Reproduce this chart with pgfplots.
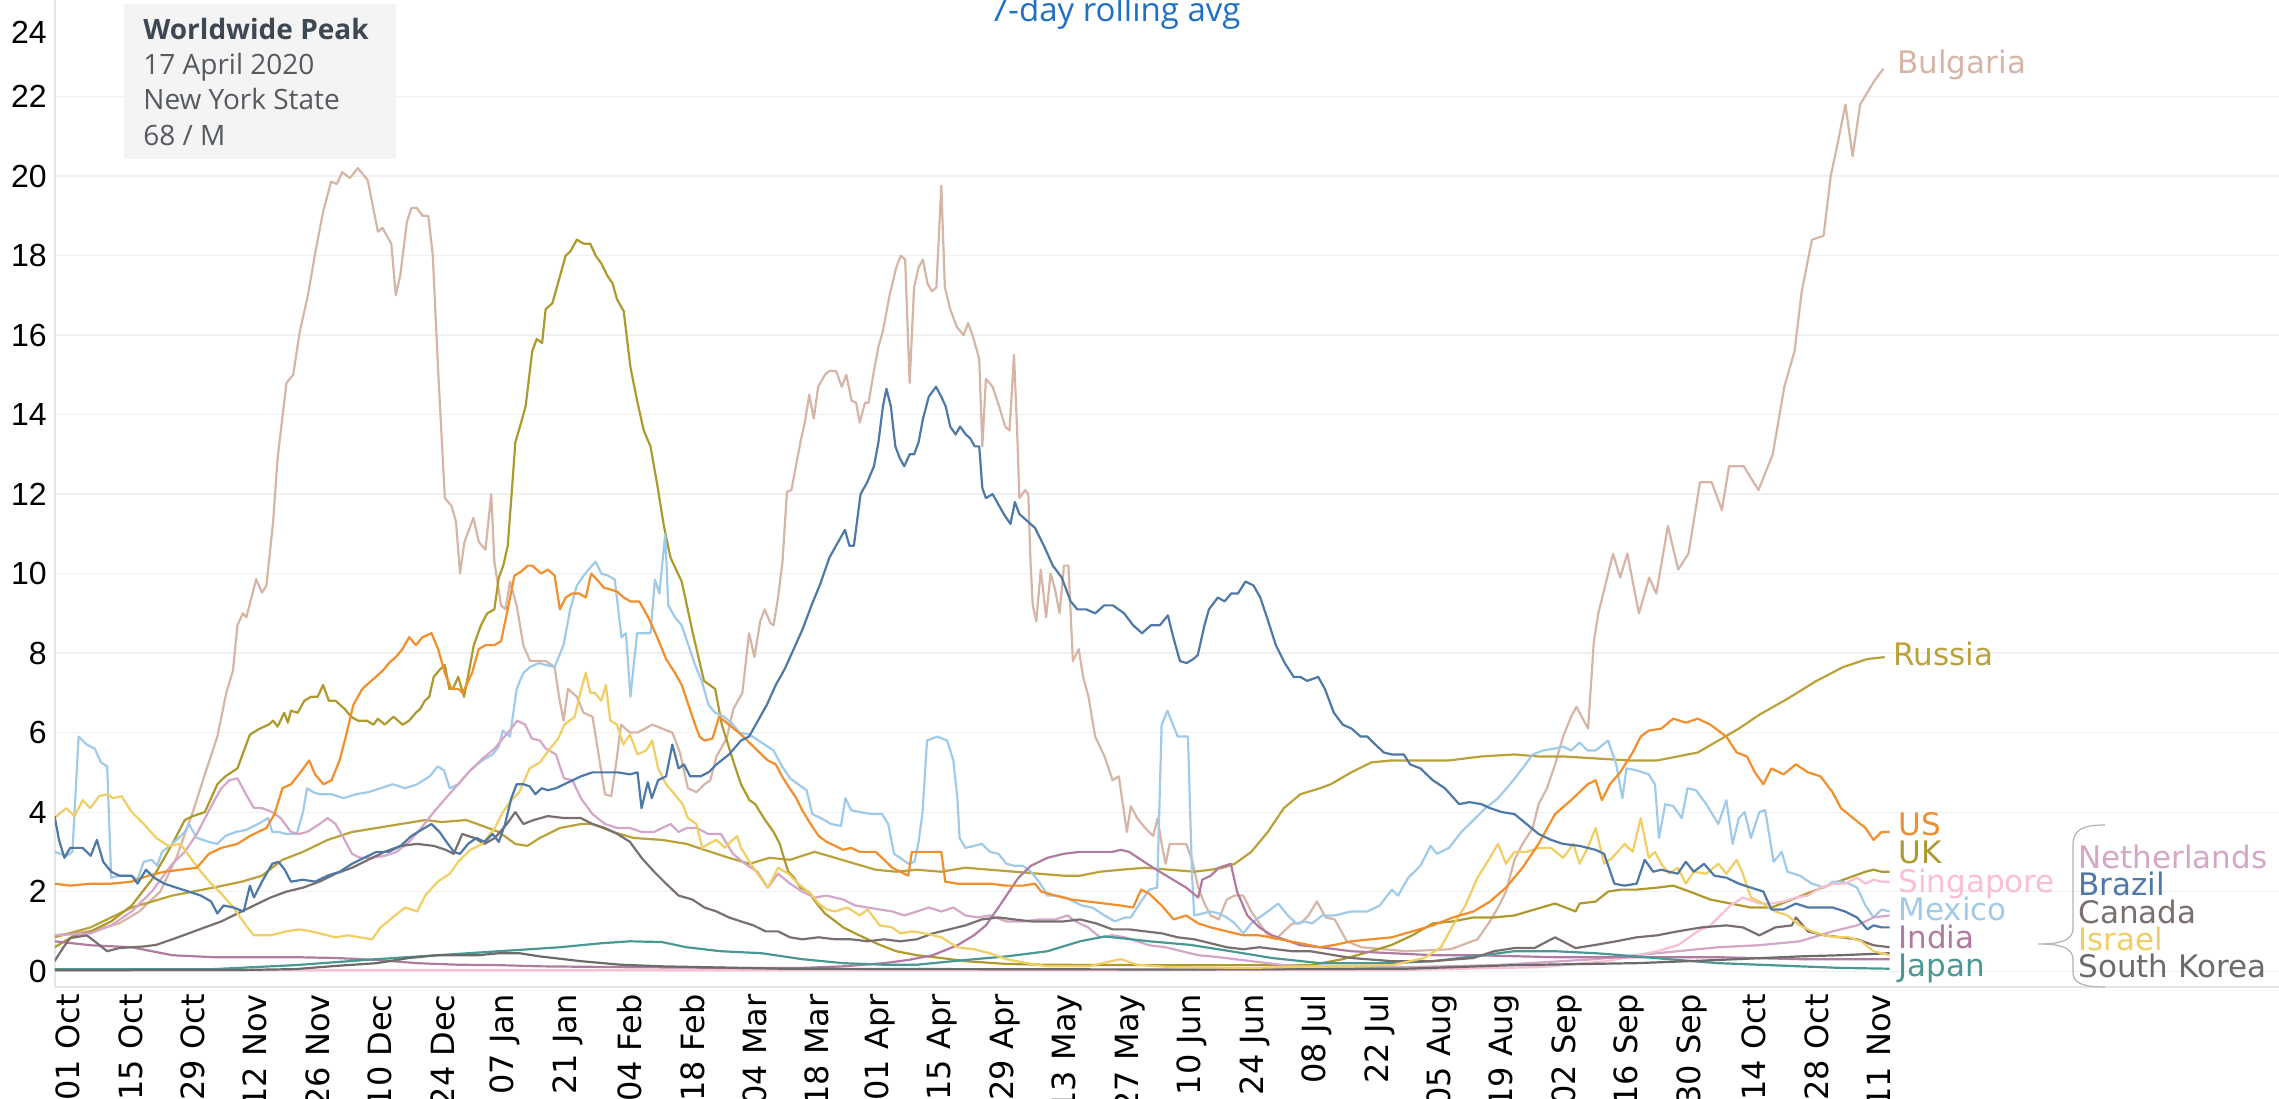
\documentclass[border=0pt]{standalone}
\usepackage{pgfplots}
\pgfplotsset{compat=1.18}
\usepackage{fontspec}
\setmainfont{Open Sans}
\newfontfamily\labelfont{DejaVu Sans}
\newfontfamily\tickfont{Liberation Sans}
\newfontfamily\xtickfont{DejaVu Sans}
\newfontfamily\annfont{Open Sans}
\definecolor{cBulgaria}{HTML}{D7B5A6}
\definecolor{cRussia}{HTML}{BBA13A}
\definecolor{cUK}{HTML}{AE9A2C}
\definecolor{cUS}{HTML}{F28E2B}
\definecolor{cSingapore}{HTML}{FABFD2}
\definecolor{cMexico}{HTML}{A0CBE8}
\definecolor{cIndia}{HTML}{B07AA1}
\definecolor{cJapan}{HTML}{499894}
\definecolor{cNetherlands}{HTML}{D4A6C8}
\definecolor{cBrazil}{HTML}{4E79A7}
\definecolor{cCanada}{HTML}{79706E}
\definecolor{cIsrael}{HTML}{F1CE63}
\definecolor{cKorea}{HTML}{6B6B6B}
\definecolor{cTitle}{HTML}{1F6FC5}
\definecolor{cBox}{HTML}{F4F4F4}
\definecolor{cAnnHead}{HTML}{3E4852}
\definecolor{cAnn}{HTML}{555A60}
\begin{document}
\begin{tikzpicture}
\begin{axis}[
  at={(0pt,0pt)}, anchor=south west,
  scale only axis, width=1112pt, height=493.5pt,
  xmin=-2.9, xmax=495.7, ymin=-0.4, ymax=24.43,
  axis x line*=bottom, axis y line*=left,
  axis line style={draw=black!10, line width=0.6pt, -},
  major tick length=0pt,
  ymajorgrids=true,
  grid style={draw=black!6, line width=0.6pt},
  xtick={0,14,28,42,56,70,84,98,112,126,140,154,168,182,196,210,224,238,252,266,280,294,308,322,336,350,364,378,392,406},
  xticklabels={01 Oct,15 Oct,29 Oct,12 Nov,26 Nov,10 Dec,24 Dec,07 Jan,21 Jan,04 Feb,18 Feb,04 Mar,18 Mar,01 Apr,15 Apr,29 Apr,13 May,27 May,10 Jun,24 Jun,08 Jul,22 Jul,05 Aug,19 Aug,02 Sep,16 Sep,30 Sep,14 Oct,28 Oct,11 Nov},
  xticklabel style={rotate=90, anchor=east, inner sep=0pt, font=\xtickfont\fontsize{16}{16}\selectfont},
  xticklabel shift=3.5pt,
  ytick={0,2,4,6,8,10,12,14,16,18,20,22},
  yticklabels={0,2,4,6,8,10,12,14,16,18,20,22},
  yticklabel style={anchor=east, inner sep=0pt, font=\tickfont\fontsize{16}{16}\selectfont},
  yticklabel shift=4pt,
  every axis plot/.append style={line width=1.1pt, mark=none, line join=round},
  clip=true,
]
% Bulgaria
\addplot[cBulgaria] coordinates {(-3,0.9) (5,1.0) (11.5,1.2) (16,1.5) (20.7,2.0) (24.3,2.85) (28,4.0) (30.7,4.95) (33.5,5.9) (35.5,7.0) (37,7.56) (38,8.7) (39.2,9.0) (40,8.9) (42.2,9.86) (43.5,9.52) (44.5,9.7) (46,11.3) (47,12.9) (49,14.8) (50.5,15.0) (52,16.1) (53.8,17.0) (55.5,18.1) (57.2,19.1) (59,19.86) (60.3,19.8) (61.5,20.1) (63.2,19.95) (65,20.2) (67.2,19.9) (69.5,18.6) (70.5,18.7) (72.5,18.3) (73.5,17.0) (74.5,17.5) (76,18.85) (77,19.2) (78.2,19.2) (79.5,19.0) (80.8,19.0) (81.8,18.0) (83,15.1) (84.5,11.9) (86,11.7) (87,11.3) (87.9,10.0) (88.9,10.8) (90.9,11.4) (92.1,10.8) (93.6,10.6) (94.9,12.0) (95.6,10.3) (97.1,9.2) (98.1,9.1) (99.1,9.8) (100.6,9.2) (102.1,8.2) (103.6,7.8) (107.1,7.8) (109.1,7.65) (110.1,6.9) (111.1,6.3) (112.1,7.1) (114.1,6.9) (115.6,6.5) (117.6,6.4) (120.4,4.45) (121.8,4.4) (123,5.3) (124,6.2) (126,6.0) (127.7,6.0) (131,6.2) (135.5,6.0) (137.2,5.5) (139,4.6) (140.9,4.5) (142.7,4.7) (144,4.8) (145.4,5.4) (147.7,5.86) (149.2,6.6) (151.2,7.0) (152.7,8.5) (153.9,7.9) (155.2,8.8) (156.2,9.1) (157.5,8.75) (158.2,8.7) (159.2,9.4) (160.2,10.3) (161.2,12.06) (162.2,12.1) (163.2,12.7) (164.2,13.3) (165.2,13.8) (166.2,14.5) (167.2,13.9) (168.2,14.7) (169.7,15.0) (170.7,15.1) (172.2,15.1) (173.5,14.7) (174.5,15.0) (175.7,14.35) (176.7,14.3) (177.5,13.8) (178.7,14.3) (179.5,14.3) (180.7,15.1) (181.7,15.7) (182.7,16.1) (184.2,17.0) (185.7,17.7) (186.7,18.0) (187.7,17.9) (188.7,14.8) (189.7,17.2) (190.7,17.7) (191.7,17.9) (192.7,17.3) (193.7,17.1) (194.7,17.2) (195.8,19.76) (196.6,17.2) (197.8,16.65) (199.3,16.2) (200.8,16.0) (201.8,16.3) (202.8,16.0) (204.3,15.4) (205,13.2) (205.8,14.9) (207.3,14.7) (208.8,14.2) (210.1,13.7) (211.1,13.6) (212.1,15.5) (212.8,13.6) (213.3,11.9) (214.6,12.1) (215.3,12.0) (215.8,10.3) (216.3,9.2) (217.1,8.8) (218.1,10.1) (219.3,8.9) (220.3,10.0) (221.3,9.6) (222.3,9.0) (223.3,10.2) (224.3,10.2) (225.3,7.8) (226.6,8.1) (227.6,7.4) (228.8,6.9) (230.3,5.9) (232.4,5.4) (234.2,4.8) (235.6,4.9) (236.5,4.2) (237.4,3.5) (238.3,4.15) (239.7,3.85) (241.5,3.6) (243.3,3.4) (244.3,3.85) (245.2,3.2) (246.1,2.7) (247,3.2) (248.4,3.2) (250.7,3.2) (252,2.8) (253.4,2.1) (254.8,1.7) (256.2,1.4) (258,1.3) (259.8,1.8) (261.6,1.9) (263.5,1.9) (265.3,1.5) (267.1,1.2) (269,0.9) (270.8,0.8) (272.6,1.0) (274.5,1.2) (276.3,1.2) (278.1,1.4) (280,1.75) (282,1.35) (284,1.3) (286.7,0.75) (290,0.6) (300,0.5) (310,0.55) (316,0.8) (318.8,1.25) (320.6,1.6) (322.4,2.0) (324.3,2.8) (326.1,3.2) (328.4,3.6) (329.7,4.2) (331.6,4.6) (333.4,5.2) (335.2,5.9) (337,6.4) (338.2,6.65) (340.8,6.1) (342.1,8.3) (343.1,9.0) (346.4,10.5) (348,9.9) (349.6,10.5) (352.2,9.0) (354.5,9.9) (356.1,9.5) (358.7,11.2) (361,10.1) (363.3,10.5) (365.9,12.3) (368.5,12.3) (370.8,11.6) (372.4,12.7) (375.7,12.7) (379,12.1) (382.2,13.0) (384.8,14.7) (387.1,15.6) (388.7,17.1) (391,18.4) (393.6,18.5) (395.2,20.0) (396.9,20.9) (398.5,21.8) (400.1,20.5) (401.8,21.8) (405,22.4) (407,22.7)};
% Russia
\addplot[cRussia] coordinates {(-3,0.85) (5.1,1.1) (14.3,1.6) (23.4,1.9) (32.6,2.1) (39,2.25) (43.5,2.4) (48.1,2.8) (52.7,3.0) (58.2,3.3) (63.7,3.5) (69.2,3.6) (74.6,3.7) (80.1,3.8) (83.8,3.75) (89.3,3.8) (93,3.65) (96.6,3.5) (100.3,3.2) (103,3.15) (105.8,3.35) (110.3,3.6) (115,3.7) (117.6,3.7) (122.2,3.5) (126.8,3.35) (133.2,3.3) (138.7,3.2) (142.7,3.05) (148.2,2.85) (152.8,2.7) (157.3,2.85) (161.9,2.8) (167.4,3.0) (172,2.85) (176.5,2.7) (181.1,2.55) (185.7,2.5) (190.3,2.55) (195.8,2.5) (201.2,2.6) (206.7,2.55) (212.2,2.5) (217.7,2.45) (223.2,2.4) (226.9,2.4) (231.4,2.5) (236,2.55) (241.5,2.6) (247,2.55) (252.5,2.5) (256.2,2.55) (258.9,2.6) (261.6,2.7) (265.3,3.0) (269,3.5) (272.6,4.1) (276.3,4.45) (280.7,4.6) (283.1,4.7) (287.7,5.0) (292.2,5.25) (296.8,5.3) (304.1,5.3) (309.6,5.3) (316.9,5.4) (324.3,5.45) (329.7,5.4) (335.2,5.4) (342.5,5.35) (349.9,5.3) (356.3,5.3) (360.9,5.4) (365.4,5.5) (370,5.8) (374.6,6.1) (379.2,6.45) (385.5,6.85) (392,7.3) (398,7.65) (403.4,7.85) (407.3,7.9)};
% UK
\addplot[cUK] coordinates {(-3,0.6) (1.5,0.9) (5.1,1.0) (9.7,1.25) (14.3,1.65) (18.8,2.3) (23.4,3.2) (26.2,3.8) (28,3.9) (30.7,4.0) (33.5,4.7) (35.3,4.9) (38,5.1) (40.8,5.95) (43,6.1) (45,6.2) (46,6.3) (47,6.15) (48.5,6.5) (49.3,6.25) (50,6.55) (51.5,6.5) (53,6.8) (54.5,6.9) (56,6.9) (57.2,7.2) (58.5,6.8) (60,6.8) (62,6.6) (63.5,6.4) (65,6.3) (67,6.3) (68.5,6.2) (69.5,6.35) (71,6.2) (73,6.4) (75,6.2) (76.5,6.3) (78,6.5) (79,6.6) (80,6.8) (81,6.9) (82,7.4) (83.5,7.6) (84.5,7.7) (85.5,7.1) (86.3,7.1) (87.5,7.4) (88.8,6.9) (90,7.6) (91,8.2) (92.6,8.7) (94,9.0) (95.6,9.1) (96.6,9.9) (97.6,10.2) (98.6,10.7) (99.6,12.2) (100.3,13.3) (101.6,13.8) (102.6,14.2) (104.1,15.6) (105.1,15.9) (106.3,15.8) (107.1,16.65) (108.6,16.8) (110.1,17.4) (111.6,18.0) (112.6,18.1) (114.1,18.4) (115.6,18.3) (117.1,18.3) (118.3,18.0) (119.6,17.8) (120.9,17.5) (122.1,17.3) (123.1,16.9) (124.6,16.6) (126.1,15.2) (127.6,14.35) (129.1,13.6) (130.6,13.2) (132.1,12.25) (133.6,11.2) (135.1,10.4) (137.6,9.8) (140.1,8.5) (142.6,7.3) (145.1,7.1) (146.6,6.2) (149.1,5.3) (150.9,4.7) (152.8,4.3) (154.1,4.2) (156,3.85) (158.2,3.5) (159.6,3.2) (160.5,2.85) (161.5,2.5) (162.8,2.35) (164.2,2.1) (166,2.0) (167.9,1.7) (169.7,1.45) (171.5,1.3) (173.8,1.1) (176.5,0.95) (179.3,0.8) (182,0.66) (185.7,0.5) (190.3,0.4) (195.8,0.33) (201.2,0.25) (210.4,0.18) (219.6,0.16) (240,0.15) (260,0.15) (278.5,0.15) (285.8,0.3) (292.2,0.5) (296.8,0.66) (301.4,0.9) (306,1.2) (310.5,1.25) (315.1,1.35) (319.7,1.35) (324.3,1.4) (328.8,1.55) (333.4,1.7) (338,1.5) (338.9,1.7) (342.5,1.75) (345.3,2.0) (348,2.05) (351.7,2.05) (356.3,2.1) (359.9,2.15) (363.6,2.0) (368.2,1.8) (372.7,1.7) (377.3,1.6) (381.9,1.6) (386.5,1.8) (391,2.0) (395.6,2.2) (399.3,2.35) (403,2.5) (404.8,2.55) (406.6,2.5) (408.4,2.5)};
% Mexico
\addplot[cMexico] coordinates {(-3,3.0) (-0.4,2.9) (1,3.0) (2.4,5.9) (4.2,5.7) (6,5.6) (7.4,5.25) (8.8,5.15) (9.7,2.35) (11.5,2.4) (14.3,2.4) (15.6,2.3) (17,2.75) (18.8,2.8) (20,2.65) (21.1,3.0) (23.4,3.2) (26.2,3.5) (27.1,3.7) (28.9,3.35) (31.6,3.25) (33.5,3.2) (35.3,3.4) (37.6,3.5) (39.9,3.55) (42.6,3.7) (44.9,3.85) (45.8,3.5) (47.2,3.5) (49,3.45) (51.3,3.45) (52.7,4.0) (53.6,4.6) (55,4.5) (56.4,4.45) (59.1,4.45) (61.8,4.35) (64.6,4.45) (67.3,4.5) (70.1,4.6) (72.8,4.7) (75.6,4.6) (78.3,4.7) (81.1,4.9) (82.9,5.15) (84.3,5.05) (85.6,4.6) (87.5,4.7) (90.2,5.05) (92.9,5.3) (95.2,5.45) (96.6,5.65) (97.5,6.05) (99.1,5.9) (100.6,7.1) (102.1,7.5) (103.6,7.65) (105.6,7.75) (107.1,7.7) (109.1,7.65) (111.1,8.2) (112.6,9.1) (114.1,9.7) (115.6,9.95) (117.1,10.15) (118.3,10.3) (119.6,10.0) (121.1,9.95) (122.6,9.85) (124.1,8.4) (125.1,8.5) (126.1,6.9) (127.6,8.5) (129.1,8.5) (130.6,8.5) (131.6,9.85) (132.6,9.5) (133.9,11.0) (134.6,9.2) (136.1,8.9) (137.6,8.7) (139.1,8.2) (140.6,7.7) (142.1,7.3) (143.6,6.7) (145.1,6.5) (147.1,6.4) (149.1,6.2) (150.6,6.0) (152.8,5.95) (155.5,5.75) (158.2,5.55) (160.1,5.15) (161.9,4.85) (163.7,4.7) (165.6,4.55) (166.9,3.95) (168.8,3.85) (171.1,3.7) (173.3,3.65) (174.3,4.35) (175.6,4.05) (177.5,4.0) (180.2,3.95) (182.5,3.95) (183.9,3.7) (185.2,2.95) (186.6,2.85) (188.4,2.7) (189.8,2.75) (190.7,3.25) (191.6,4.0) (192.6,5.8) (194.9,5.9) (197.1,5.8) (198.5,5.3) (199.4,4.35) (199.9,3.35) (201.2,3.1) (203.1,3.15) (204.9,3.2) (206.7,3.0) (208.6,2.95) (210.4,2.7) (212.2,2.65) (214.1,2.65) (215.9,2.5) (217.7,2.25) (219.6,1.9) (221.4,1.9) (223.7,1.85) (225.5,1.75) (227.3,1.65) (229.6,1.6) (232.4,1.4) (234.7,1.25) (237,1.35) (238.3,1.35) (239.7,1.6) (242.4,2.05) (244.2,2.1) (245.2,6.2) (246.5,6.55) (248.8,5.9) (251.1,5.9) (252,2.45) (252.5,1.4) (254.4,1.45) (256.2,1.5) (258,1.45) (259.8,1.35) (261.6,1.2) (263.5,0.95) (265.3,1.2) (267.1,1.35) (269,1.5) (271.3,1.7) (273.5,1.4) (275.4,1.2) (277.2,1.25) (279,1.2) (281.2,1.4) (284,1.4) (287.7,1.5) (291.3,1.5) (294.1,1.65) (296.8,2.05) (298.2,1.9) (300.5,2.35) (303.2,2.65) (305.5,3.15) (306.9,2.95) (309.6,3.1) (312.4,3.5) (315.1,3.8) (317.8,4.1) (320.6,4.35) (323.3,4.7) (326.1,5.1) (328.4,5.45) (330.7,5.55) (333.4,5.6) (335.2,5.65) (337,5.55) (338.9,5.75) (340.7,5.55) (342.5,5.55) (345.3,5.8) (347.1,5.2) (348.5,4.35) (349.4,5.1) (351.7,5.05) (354.4,4.95) (355.8,4.7) (356.7,3.35) (358.1,4.2) (359.9,4.15) (361.8,3.85) (363.1,4.6) (365,4.55) (367.3,4.2) (370,3.7) (371.8,4.3) (373.2,3.2) (374.6,3.85) (375.9,4.0) (377.3,3.35) (379.2,4.0) (380.5,4.05) (382.4,2.75) (384.2,3.0) (385.5,2.5) (388.3,2.4) (391,2.2) (393.8,2.1) (395.6,2.25) (397.5,2.25) (399.3,2.2) (401.1,2.1) (403,1.65) (404.8,1.35) (406.6,1.55) (408.4,1.5)};
% Netherlands
\addplot[cNetherlands] coordinates {(-3,0.9) (5.1,0.95) (9.7,1.15) (14.3,1.5) (18.8,2.0) (23.4,2.7) (26.2,3.0) (28.9,3.45) (32.6,4.25) (34.4,4.6) (36.2,4.8) (38,4.85) (39.9,4.45) (41.7,4.1) (43.5,4.1) (45.8,4.0) (47.7,3.85) (50,3.5) (51.8,3.45) (53.6,3.5) (56.4,3.7) (58.2,3.85) (60,3.7) (61.8,3.35) (63.7,2.95) (65.5,2.85) (68.2,2.85) (71,2.9) (73.7,3.0) (76.5,3.25) (79.2,3.6) (82,4.0) (84.7,4.35) (87.5,4.7) (90.2,5.05) (93,5.35) (95.7,5.6) (97.5,5.85) (99.4,6.1) (100.7,6.3) (102.5,6.2) (104,5.85) (105.8,5.8) (107.1,5.6) (109.4,5.45) (111.2,4.85) (113.1,4.8) (115,4.35) (117.6,3.95) (120.4,3.7) (123.2,3.6) (126,3.6) (128.6,3.5) (131.4,3.5) (133.2,3.6) (135.1,3.7) (136.9,3.5) (138.7,3.6) (140.9,3.6) (143.6,3.45) (146.4,3.45) (149.1,2.95) (151.8,2.7) (154.6,2.5) (156.9,2.1) (159.2,2.45) (161.9,2.2) (164.6,2.0) (167.4,1.85) (170.1,1.9) (173.8,1.8) (176.5,1.65) (179.3,1.6) (182,1.55) (184.8,1.5) (187.5,1.4) (190.3,1.5) (193,1.6) (195.8,1.5) (198.5,1.6) (201.2,1.4) (204,1.35) (206.7,1.4) (210.4,1.25) (214.1,1.25) (217.7,1.3) (221.4,1.3) (224.1,1.4) (225.9,1.25) (228.7,1.1) (231.4,0.85) (234.2,0.9) (236.9,0.85) (239.7,0.75) (242.4,0.65) (246.1,0.6) (249.7,0.5) (253.4,0.4) (258,0.35) (265.3,0.25) (272.6,0.15) (280.7,0.12) (300,0.1) (320,0.15) (342.5,0.3) (360.9,0.5) (370,0.6) (379,0.65) (388.3,0.75) (395.6,1.0) (401.1,1.15) (404.8,1.35) (408.4,1.4)};
% Singapore
\addplot[cSingapore] coordinates {(-3,0.02) (100,0.02) (200,0.02) (300,0.03) (330,0.1) (345,0.25) (356.3,0.5) (360.9,0.65) (365.4,1.0) (368.2,1.15) (370,1.35) (372.7,1.65) (375.5,1.85) (379.2,1.7) (381.9,1.7) (384.6,1.75) (387.4,1.85) (390.1,1.9) (392.9,2.1) (395.6,2.2) (398.4,2.2) (401.1,2.35) (403,2.2) (404.8,2.3) (406.6,2.25) (408.4,2.25)};
% India
\addplot[cIndia] coordinates {(-3,0.75) (5.1,0.65) (14.3,0.6) (23.4,0.4) (32.6,0.35) (50.9,0.35) (60,0.33) (69.2,0.28) (78.3,0.2) (87.5,0.16) (96.6,0.15) (105.8,0.12) (124,0.1) (150,0.08) (164.6,0.08) (173.8,0.12) (183,0.2) (188.4,0.28) (193.9,0.4) (199.4,0.65) (203.1,0.9) (205.8,1.15) (208.6,1.6) (210.4,1.9) (213.1,2.35) (215.9,2.65) (219.6,2.85) (223.2,2.95) (226.9,3.0) (230.5,3.0) (234.2,3.0) (236,3.05) (237.9,3.0) (240.6,2.8) (243.3,2.6) (247,2.35) (250.7,2.1) (253.4,1.85) (254.3,2.3) (256.2,2.4) (258,2.6) (260.7,2.7) (262.1,2.0) (264.4,1.4) (267.1,1.1) (269.9,0.9) (272.6,0.8) (276.3,0.65) (280.7,0.6) (287.7,0.5) (296.8,0.45) (306,0.4) (315.1,0.4) (333.4,0.35) (351.7,0.35) (370,0.35) (388.3,0.3) (408.4,0.3)};
% Japan
\addplot[cJapan] coordinates {(-3,0.05) (32.6,0.05) (50.9,0.15) (69.2,0.3) (82.9,0.4) (96.6,0.5) (110.3,0.6) (119.5,0.7) (126,0.75) (133.2,0.73) (138.7,0.6) (146.4,0.5) (155.5,0.45) (164.6,0.3) (173.8,0.2) (183,0.16) (190.3,0.16) (201.2,0.28) (210.4,0.37) (219.6,0.5) (226.9,0.75) (232.4,0.87) (236,0.83) (242.4,0.75) (251.6,0.66) (260.7,0.5) (269.9,0.33) (280.7,0.2) (296.8,0.2) (306,0.25) (315.1,0.37) (324.3,0.5) (333.4,0.5) (342.5,0.45) (351.7,0.37) (360.9,0.28) (370,0.2) (379.2,0.16) (388.3,0.12) (397.5,0.08) (408.4,0.06)};
% South Korea
\addplot[cKorea] coordinates {(-3,0.02) (40,0.03) (50.9,0.05) (60,0.13) (69.2,0.2) (76.5,0.33) (82.9,0.4) (92,0.4) (96.6,0.45) (101.2,0.45) (105.8,0.37) (115,0.25) (124,0.16) (133.2,0.12) (160,0.06) (200,0.05) (250,0.04) (300,0.06) (324.3,0.15) (351.7,0.2) (370,0.28) (388.3,0.37) (397.5,0.4) (408.4,0.45)};
% Canada
\addplot[cCanada] coordinates {(-3,0.25) (-1,0.6) (0.5,0.83) (4.2,0.9) (6,0.75) (8.8,0.5) (11.5,0.58) (17,0.62) (19.8,0.66) (23.4,0.8) (27.1,0.95) (30.7,1.1) (34.4,1.25) (38,1.45) (41.7,1.65) (45.4,1.85) (49,2.0) (52.7,2.1) (56.4,2.25) (60,2.45) (63.7,2.6) (67.3,2.8) (71,3.0) (74.6,3.15) (78.3,3.2) (82,3.15) (84.7,3.05) (86.5,2.95) (88.4,3.45) (91.1,3.35) (93.4,3.2) (95.7,3.35) (98.4,3.7) (100.3,4.0) (102.1,3.7) (104.4,3.8) (107.6,3.9) (111.2,3.85) (115,3.85) (117.6,3.7) (120.4,3.6) (123.2,3.45) (126,3.25) (128.6,2.85) (131.4,2.5) (134.1,2.2) (136.9,1.9) (140,1.8) (142.7,1.6) (145.4,1.5) (148.2,1.35) (150.9,1.25) (153.7,1.15) (156.4,1.0) (159.2,1.0) (161.9,0.85) (164.6,0.8) (168.3,0.85) (172,0.8) (175.6,0.8) (179.3,0.75) (183,0.8) (186.6,0.75) (190.3,0.8) (194,0.95) (197.6,1.05) (201.2,1.15) (204.9,1.3) (208.6,1.35) (212.2,1.3) (215.9,1.25) (219.6,1.25) (223.2,1.25) (226.9,1.3) (230.5,1.2) (234.2,1.05) (237.9,1.05) (241.5,1.0) (245.2,0.95) (248.8,0.85) (252.5,0.8) (256.2,0.7) (259.8,0.6) (263.5,0.55) (267.1,0.6) (270.8,0.55) (274.5,0.5) (278.5,0.5) (287.7,0.33) (296.8,0.25) (306,0.25) (315.1,0.33) (319.7,0.5) (324.3,0.58) (328.8,0.58) (333.4,0.85) (338,0.58) (342.5,0.66) (347.1,0.75) (351.7,0.85) (356.3,0.9) (360.9,1.0) (366.3,1.1) (371.8,1.15) (375.5,1.1) (379.2,0.9) (382.8,1.1) (386.5,1.15) (387.4,1.35) (390.1,1.0) (393.8,0.9) (397.5,0.85) (401.1,0.8) (404.8,0.65) (408.4,0.6)};
% Israel
\addplot[cIsrael] coordinates {(-3,3.85) (-0.4,4.1) (1.5,3.9) (3.3,4.3) (5,4.1) (7,4.4) (8.8,4.45) (10.1,4.35) (12,4.4) (14.3,4.0) (17,3.7) (19.8,3.35) (22.5,3.15) (25.2,3.2) (27.5,2.85) (29.8,2.5) (32.1,2.2) (34.4,1.95) (37.1,1.6) (39.9,1.15) (41.7,0.9) (45.4,0.9) (49,1.0) (51.8,1.05) (54.5,1.0) (58.2,0.9) (60,0.85) (62.8,0.9) (65.5,0.85) (68.2,0.8) (70.1,1.1) (72.8,1.35) (75.6,1.6) (78.3,1.5) (80.1,1.9) (82.9,2.25) (85.6,2.45) (87.5,2.75) (90.2,3.05) (92.9,3.2) (95.7,3.6) (97.5,4.0) (99.4,4.3) (101.2,4.5) (103.5,5.1) (105.8,5.25) (108.1,5.6) (109.9,5.85) (111.3,6.2) (113.6,6.4) (115.1,7.1) (116.1,7.5) (117.1,7.0) (118.1,7.0) (119.6,6.8) (120.6,7.2) (121.6,6.3) (123.1,6.2) (124.5,5.7) (126,5.95) (127.7,5.45) (129.6,5.55) (131,5.8) (132.3,5.1) (134.1,4.7) (136,4.45) (137.8,4.2) (139,3.85) (140.9,3.7) (142.2,3.1) (143.6,3.2) (145.4,3.3) (147.3,3.1) (148.6,3.25) (150,3.4) (150.9,3.1) (152.8,2.75) (154.6,2.45) (156.9,2.1) (159.2,2.6) (161.5,2.45) (163.7,2.2) (166.5,1.95) (168.3,1.7) (170.1,1.55) (172,1.5) (174.7,1.6) (177.5,1.4) (179.3,1.55) (182,1.15) (184.8,1.1) (186.6,0.95) (189.4,1.0) (192.1,0.95) (195.8,0.85) (199.4,0.6) (203.1,0.55) (206.7,0.45) (210.4,0.3) (215,0.2) (219.6,0.12) (228.7,0.12) (236,0.3) (239.7,0.16) (247,0.1) (265.3,0.08) (280,0.12) (296.8,0.15) (304.1,0.33) (307.8,0.6) (310.5,1.15) (313.3,1.65) (316,2.35) (318.8,2.85) (320.6,3.2) (322.4,2.7) (324.3,3.0) (327,3.0) (329.7,3.1) (332.5,3.1) (335.2,2.85) (337.5,3.2) (338.9,2.7) (340.7,3.1) (342.5,3.6) (344.4,2.7) (346.2,2.85) (349,3.2) (350.8,3.0) (352.6,3.85) (354.4,2.85) (355.8,3.0) (357.2,2.7) (359,2.45) (360.9,2.6) (362.7,2.2) (364.5,2.5) (367.3,2.45) (370,2.7) (371.8,2.45) (374.1,2.8) (375.5,2.45) (377.3,1.85) (380.1,1.7) (382.8,1.5) (385.5,1.4) (388.3,1.15) (391,1.0) (393.8,0.9) (396.5,0.85) (399.3,0.85) (402,0.75) (404.8,0.5) (406.6,0.45) (408.4,0.4)};
% US
\addplot[cUS] coordinates {(-3,2.2) (0.5,2.15) (5.1,2.2) (9.7,2.2) (14.3,2.25) (18,2.4) (21.6,2.5) (25.2,2.55) (28.9,2.6) (31.6,2.95) (34.4,3.1) (38,3.2) (40.8,3.4) (44.5,3.6) (46.3,3.95) (48.1,4.6) (50,4.7) (51.8,4.95) (54.1,5.3) (55.4,4.95) (57.3,4.7) (59.1,4.8) (60.9,5.3) (62.3,5.9) (64,6.7) (66,7.1) (68,7.3) (70.5,7.55) (72,7.75) (73.5,7.9) (75,8.1) (76.5,8.4) (78,8.2) (79.5,8.4) (81.5,8.5) (83,8.1) (84.5,7.5) (86,7.1) (87.5,7.1) (88.5,7.0) (90.6,7.5) (92.1,8.1) (93.6,8.2) (95.6,8.2) (97.1,8.3) (98.6,9.1) (100.1,9.95) (101.6,10.05) (103.1,10.2) (104.1,10.2) (105.1,10.1) (106.1,10.0) (107.6,10.1) (109.1,9.95) (110.3,9.1) (111.6,9.4) (113.1,9.5) (114.6,9.5) (116.1,9.4) (117.3,10.0) (118.6,9.85) (120.1,9.65) (121.6,9.6) (123.1,9.55) (124.6,9.4) (126.1,9.3) (128.1,9.3) (130.1,8.9) (132.1,8.4) (134.1,7.85) (136.1,7.5) (137.6,7.2) (139.1,6.7) (140.6,6.2) (141.6,5.9) (142.7,5.8) (144.5,5.85) (146,6.4) (148.2,6.2) (150.9,5.95) (153.2,5.7) (155.5,5.45) (156.9,5.3) (158.7,5.2) (160.1,4.9) (161.5,4.65) (163.3,4.35) (164.6,4.05) (166.5,3.7) (168.3,3.4) (170.1,3.25) (172,3.15) (173.8,3.05) (175.6,3.1) (177.5,3.0) (179.3,3.0) (181.1,3.0) (183,2.8) (184.8,2.6) (186.6,2.5) (188.4,2.4) (189.2,3.0) (192.1,3.0) (195.8,3.0) (196.7,2.25) (199.4,2.2) (203.1,2.2) (206.7,2.2) (210.4,2.15) (214.1,2.15) (216.8,2.2) (218.2,2.0) (221.4,1.9) (225,1.8) (228.7,1.75) (232.4,1.7) (236,1.65) (238.8,1.6) (240.6,2.05) (242.4,1.95) (245.2,1.65) (247.9,1.3) (250.7,1.4) (253.4,1.2) (256.2,1.1) (259.8,1.0) (263.5,0.9) (267.1,0.9) (271.7,0.8) (276.3,0.7) (280.7,0.6) (284,0.66) (287.7,0.75) (292.2,0.8) (296.8,0.85) (301.4,1.0) (306,1.15) (310.5,1.35) (315.1,1.5) (318.8,1.75) (322.4,2.1) (326.1,2.6) (329.7,3.2) (333.4,3.95) (337,4.3) (340.7,4.7) (342.5,4.8) (343.9,4.3) (345.7,4.7) (348,5.0) (350.8,5.5) (352.6,5.9) (354.4,6.05) (357.2,6.1) (359.9,6.35) (362.7,6.25) (365.4,6.35) (368.2,6.2) (370,6.05) (371.8,5.9) (374.1,5.5) (376.4,5.4) (378.2,5.0) (380.1,4.7) (381.9,5.1) (384.6,4.95) (387.4,5.2) (390.1,5.0) (392.9,4.9) (395.6,4.5) (397.5,4.1) (400.2,3.85) (403,3.6) (404.8,3.3) (406.6,3.5) (408.4,3.5)};
% Brazil
\addplot[cBrazil] coordinates {(-3,3.9) (-2,3.3) (-0.8,2.85) (0.5,3.1) (3.3,3.1) (5.1,2.9) (6.5,3.3) (7.9,2.75) (9.7,2.5) (11.5,2.4) (14.3,2.4) (15.6,2.2) (17.5,2.55) (19.3,2.35) (21.6,2.2) (24.3,2.1) (27.1,2.0) (29.8,1.9) (32.1,1.75) (33.5,1.45) (34.9,1.65) (37.1,1.6) (39.4,1.5) (40.8,2.15) (41.7,1.85) (43.5,2.25) (45.8,2.7) (47.2,2.75) (48.6,2.55) (50,2.25) (52.7,2.3) (55.4,2.25) (58.2,2.4) (60.9,2.5) (63.7,2.7) (66.4,2.85) (69.2,3.0) (71.9,3.0) (74.6,3.15) (77,3.4) (79.2,3.55) (81.5,3.7) (83.3,3.5) (85.2,3.2) (86.5,3.0) (87.9,2.95) (89.7,3.2) (91.6,3.35) (93.4,3.25) (95.2,3.45) (96.6,3.25) (98,3.7) (99.4,4.35) (100.6,4.7) (102.1,4.7) (103.5,4.65) (104.8,4.45) (106.2,4.6) (107.6,4.55) (109.4,4.6) (112.2,4.75) (115,4.9) (117.6,5.0) (120.4,5.0) (123.2,5.0) (126,4.95) (127.7,5.0) (128.6,4.1) (130,4.75) (130.9,4.35) (132.3,4.8) (134.1,4.9) (135.5,5.7) (136.9,5.1) (138.1,5.2) (139.5,4.9) (141.8,4.9) (143.6,5.0) (145.4,5.2) (148.2,5.45) (150.9,5.8) (152.7,5.9) (154.7,6.3) (156.7,6.7) (158.7,7.2) (160.7,7.6) (162.7,8.1) (164.7,8.6) (166.7,9.2) (168.7,9.75) (170.7,10.4) (172.2,10.7) (174.2,11.1) (175.2,10.7) (176.2,10.7) (177.7,12.0) (179.2,12.3) (180.7,12.7) (181.7,13.3) (182.7,14.2) (183.5,14.65) (184.5,14.2) (185.5,13.2) (186.5,12.9) (187.5,12.7) (188.7,13.0) (189.7,13.0) (190.7,13.3) (191.7,13.9) (193,14.45) (194.6,14.7) (195.8,14.45) (196.8,14.2) (197.8,13.7) (199,13.5) (200,13.7) (201.3,13.5) (202.3,13.4) (203.3,13.2) (204.3,13.2) (205,12.15) (205.8,11.9) (207.3,12.0) (208.3,11.8) (209.8,11.5) (211.3,11.25) (212.3,11.8) (213.3,11.5) (214.3,11.4) (216.8,11.15) (218.8,10.7) (220.8,10.2) (222.8,9.9) (224.8,9.3) (226.3,9.1) (228.3,9.1) (230.3,9.0) (232.3,9.2) (234.3,9.2) (236.8,9.0) (238.8,8.7) (240.8,8.5) (242.8,8.7) (244.8,8.7) (246.6,8.95) (247.8,8.4) (249.3,7.8) (250.8,7.75) (252.3,7.85) (253.3,7.95) (254.8,8.7) (255.8,9.1) (257.8,9.4) (259.3,9.3) (260.8,9.5) (262.3,9.5) (264,9.8) (265.8,9.7) (267.3,9.4) (268.8,8.9) (270.8,8.2) (272.8,7.75) (274.8,7.4) (276.3,7.4) (277.8,7.3) (280.3,7.4) (281.8,7.1) (283.8,6.5) (285.8,6.2) (287.8,6.1) (289.8,5.9) (291.3,5.9) (293.1,5.7) (295,5.5) (296.8,5.45) (299.5,5.45) (300.9,5.2) (303.2,5.1) (306,4.8) (308.7,4.6) (311.9,4.2) (314.2,4.25) (316.9,4.2) (318.8,4.1) (321.5,4.0) (324.3,3.95) (327,3.7) (329.7,3.45) (332.5,3.3) (335.2,3.2) (338.9,3.15) (342.5,3.05) (344.4,2.95) (346.7,2.2) (348.9,2.15) (351.7,2.2) (353.5,2.8) (355.4,2.5) (357.2,2.55) (359,2.5) (360.9,2.45) (362.7,2.75) (364.5,2.5) (366.8,2.7) (369.1,2.4) (371.8,2.35) (374.6,2.2) (377.3,2.1) (380.1,2.0) (381.9,1.55) (384.6,1.55) (387.4,1.7) (390.1,1.6) (392.9,1.6) (395.6,1.6) (398.4,1.5) (401.1,1.35) (403.4,1.05) (404.8,1.15) (406.6,1.1) (408.4,1.1)};
\end{axis}
\begin{scope}[x=0.5pt, y=-0.5pt, shift={(-27.5pt,493.5pt)}]
  % y label 24 (shifted down like the reference)
  \node[anchor=east, inner sep=0pt, font=\tickfont\fontsize{16}{16}\selectfont] at (47,32) {24};
  % annotation box
  \fill[cBox] (124,4) rectangle (396,159);
  \node[anchor=base west, inner sep=0pt, text=cAnnHead, font=\annfont\bfseries\fontsize{14}{14}\selectfont] at (143,40) {Worldwide Peak};
  \node[anchor=base west, inner sep=0pt, text=cAnn, font=\annfont\fontsize{14}{14}\selectfont] at (143,75) {17 April 2020};
  \node[anchor=base west, inner sep=0pt, text=cAnn, font=\annfont\fontsize{14}{14}\selectfont] at (143,110) {New York State};
  \node[anchor=base west, inner sep=0pt, text=cAnn, font=\annfont\fontsize{14}{14}\selectfont] at (143,146) {68 / M};
  % title
  \node[anchor=base, inner sep=0pt, text=cTitle, font=\annfont\fontsize{16.5}{16.5}\selectfont] at (1115,22) {7-day rolling avg};
  % labels
  \tikzset{lab/.style={anchor=base west, inner sep=0pt, font=\labelfont\fontsize{15.5}{15.5}\selectfont}}
  \node[lab, text=cBulgaria] at (1897,73.5) {Bulgaria};
  \node[lab, text=cRussia] at (1893,665.5) {Russia};
  \node[lab, text=cUS] at (1898,835.5) {US};
  \node[lab, text=cUK] at (1898,863.5) {UK};
  \node[lab, text=cSingapore] at (1898,892.5) {Singapore};
  \node[lab, text=cMexico] at (1898,920.5) {Mexico};
  \node[lab, text=cIndia] at (1898,948.5) {India};
  \node[lab, text=cJapan] at (1898,976.5) {Japan};
  \node[lab, text=cNetherlands] at (2078,868.5) {Netherlands};
  \node[lab, text=cBrazil] at (2078,895.5) {Brazil};
  \node[lab, text=cCanada] at (2078,923.5) {Canada};
  \node[lab, text=cIsrael] at (2078,950.5) {Israel};
  \node[lab, text=cKorea] at (2078,977.5) {South Korea};
  % bracket
  \draw[black!30, line width=0.6pt] (2105,825) .. controls (2082,825) and (2073,830) .. (2073,845) -- (2073,928) .. controls (2073,940) and (2062,944) .. (2038,944) .. controls (2062,944) and (2073,948) .. (2073,960) -- (2073,972) .. controls (2073,983) and (2082,987) .. (2105,987);
\end{scope}
\pgfresetboundingbox
\path[use as bounding box] (-27.5pt,-55.5pt) rectangle (1112pt,493.5pt);
\end{tikzpicture}
\end{document}
